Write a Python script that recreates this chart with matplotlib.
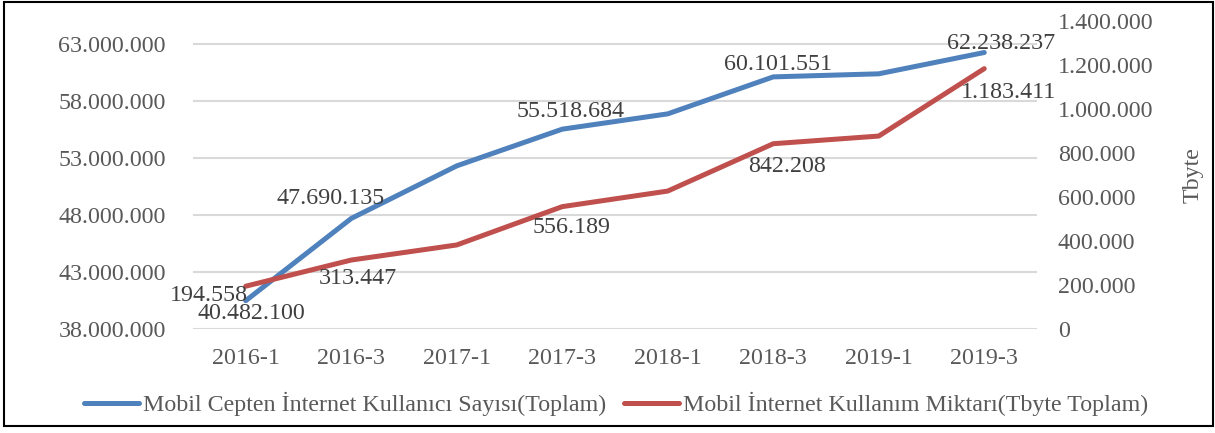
import matplotlib
matplotlib.use("Agg")
import matplotlib.pyplot as plt
from matplotlib.patches import Rectangle

plt.rcParams['font.family'] = ['Liberation Serif', 'DejaVu Serif']

# data
donemler = ["2016-1", "2016-3", "2017-1", "2017-3", "2018-1", "2018-3", "2019-1", "2019-3"]
kullanici = [40482100, 47690135, 52300000, 55518684, 56860000, 60101551, 60370000, 62238237]
tbyte = [194558, 313447, 382000, 556189, 627000, 842208, 877000, 1183411]
sol_ticks = [38000000, 43000000, 48000000, 53000000, 58000000, 63000000]
sag_ticks = [0, 200000, 400000, 600000, 800000, 1000000, 1200000, 1400000]

# labelled points: (index, offset in pixels)
kullanici_etiket = {0: (6, -13), 1: (-21, 20), 3: (8, 18), 5: (5, 12), 7: (17, 9)}
tbyte_etiket = {0: (-37, -9), 1: (7, -18), 3: (9, -21), 5: (14, -23), 7: (24, -24)}

mavi = "#4f81bd"
kirmizi = "#c0504d"
yazi = "#595959"
fs = 17.3

def fmt(v):
    return "{:,}".format(v).replace(",", ".")

fig = plt.figure(figsize=(12.15, 4.33), dpi=100)
ax = fig.add_axes([193/1215, 1-329/433, 844/1215, 308/433])
ax2 = ax.twinx()

x = list(range(len(donemler)))
l1, = ax.plot(x, kullanici, color=mavi, lw=3.6, solid_capstyle='round', zorder=3)
l2, = ax2.plot(x, tbyte, color=kirmizi, lw=3.6, solid_capstyle='round', zorder=3)

ax.set_xlim(-0.5, 7.5)
ax.set_ylim(38000000, 65000000)
ax2.set_ylim(0, 1400000)
ax.set_yticks(sol_ticks)
ax.set_yticklabels([fmt(v) for v in sol_ticks])
ax2.set_yticks(sag_ticks)
ax2.set_yticklabels([fmt(v) for v in sag_ticks])
ax.set_xticks(x)
ax.set_xticklabels(donemler)

for a in (ax, ax2):
    for s in a.spines.values():
        s.set_visible(False)
    a.tick_params(length=0, labelsize=fs, labelcolor=yazi)
ax.tick_params(axis='y', pad=19.5)
ax.tick_params(axis='x', pad=14)
ax2.tick_params(axis='y', pad=15)
ax.grid(axis='y', color="#d9d9d9", lw=1.5)
ax.set_axisbelow(True)

ax2.set_ylabel("Tbyte", fontsize=fs, color=yazi)
ax2.yaxis.set_label_coords(1.173, 0.5)

for i, off in kullanici_etiket.items():
    ax.annotate(fmt(kullanici[i]), (x[i], kullanici[i]), xytext=off, textcoords='offset pixels',
                ha='center', va='center', fontsize=fs, color="#404040", zorder=5)
for i, off in tbyte_etiket.items():
    ax2.annotate(fmt(tbyte[i]), (x[i], tbyte[i]), xytext=off, textcoords='offset pixels',
                 ha='center', va='center', fontsize=fs, color="#404040", zorder=5)

fig.legend([l1, l2], ["Mobil Cepten İnternet Kullanıcı Sayısı(Toplam)",
                      "Mobil İnternet Kullanım Miktarı(Tbyte Toplam)"],
           loc='center', bbox_to_anchor=(616/1215, 29/433), ncol=2, frameon=False,
           fontsize=fs, labelcolor=yazi, handlelength=2.3, handletextpad=0.17,
           columnspacing=0.72)

fig.patches.append(Rectangle((4/1215, 7/433), 1209/1215, 424/433, transform=fig.transFigure,
                             fill=False, edgecolor='black', lw=1.5))

fig.savefig("out.png", dpi=100)
